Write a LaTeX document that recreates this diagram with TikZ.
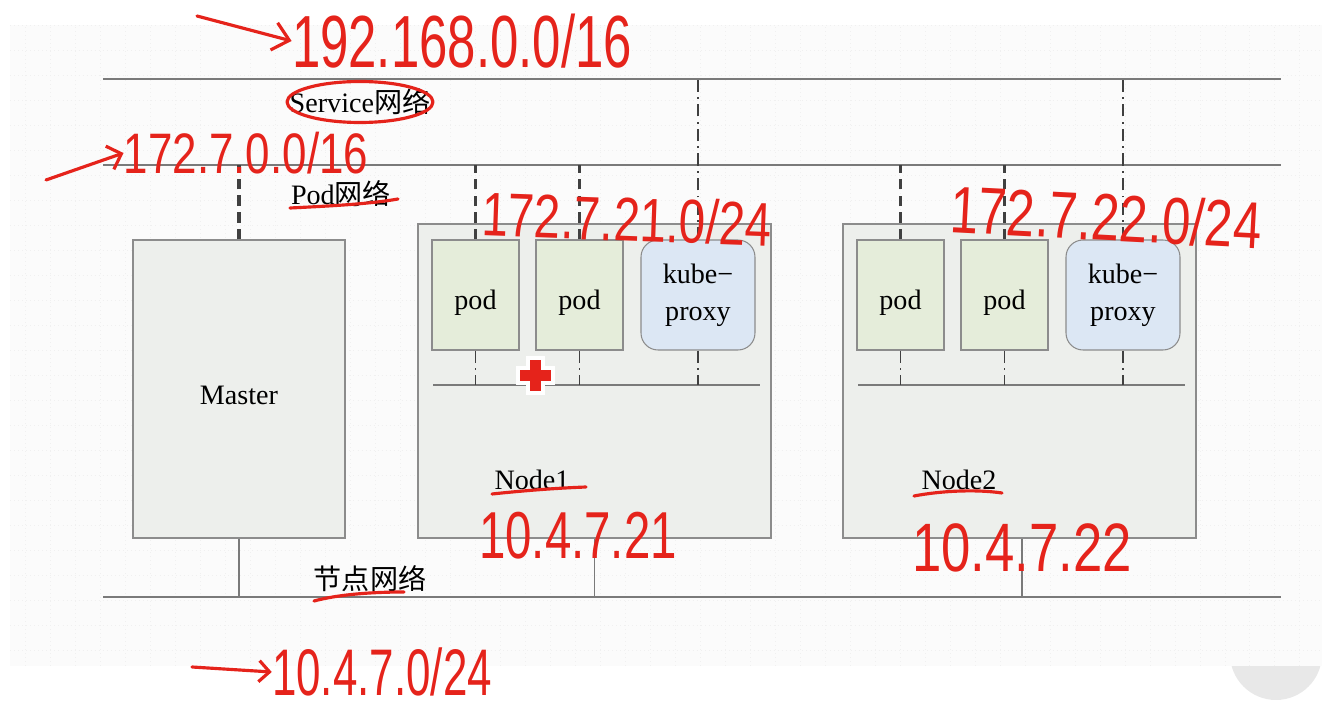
\documentclass[tikz,border=0pt]{standalone}
\usepackage{fontspec}
\setmainfont{Liberation Serif}
\newfontfamily\cjkfont{Noto Sans CJK SC}
\newfontfamily\handfont{Liberation Sans}
\usetikzlibrary{arrows.meta}
\tikzset {>=Stealth}
\definecolor{boxgrey}{HTML}{EDEFEC}
\definecolor{podgreen}{HTML}{E5EDDA}
\definecolor{proxyblue}{HTML}{DCE7F4}
\definecolor{linegrey}{HTML}{8C8C8C}
\definecolor{netgrey}{HTML}{7A7A7A}
\definecolor{inkred}{HTML}{E5231B}
\newcommand*{\hand}[3]{\fontsize{#1}{#1}\handfont\scalebox{1}[#2]{#3}}

\begin{document}
\begin{tikzpicture}[x=0.02cm,y=-0.02cm,
  font=\fontsize{16}{21}\selectfont,
  hostbox/.style={draw=linegrey,fill=boxgrey,line width=0.7pt},
  podbox/.style={draw=linegrey,fill=podgreen,line width=0.6pt,text height=20pt,
    minimum width=1.74cm,minimum height=2.2cm},
  proxybox/.style={draw=linegrey,fill=proxyblue,line width=0.6pt,rounded corners=0.34cm,
    minimum width=2.28cm,minimum height=2.2cm,align=center,
    execute at begin node=\rule{0pt}{22pt}},
  netlabel/.style={inner sep=0pt},
  net/.style={netgrey,line width=1.1pt},
  wire/.style={netgrey,line width=0.7pt},
  poddash/.style={black!75,line width=1.8pt,dash pattern=on 6pt off 3.5pt},
  svcdash/.style={black!75,line width=0.9pt,dash pattern=on 7pt off 3pt on 1pt off 3pt},
  ink/.style={inkred,line width=1.8pt,line cap=round,line join=round},
  inktext/.style={inkred,inner sep=0pt}]
\useasboundingbox (0,0) rectangle (1340,726);

% Screen background and grid
\fill[black!9] (1276,654) circle (46);
\fill[white!98.6!black] (10,25) rectangle (1322,666);
\draw[black!6,line width=0.3pt,dotted,step=0.5cm] (10,25) grid (1322,666);

% Network lines
\coordinate (svcL) at (103,79);
\coordinate (svcR) at (1281,79);
\coordinate (podL) at (103,165);
\coordinate (podR) at (1281,165);
\coordinate (hostL) at (103,597);
\coordinate (hostR) at (1281,597);
\draw[net] (svcL) -- (svcR);
\draw[net] (podL) -- (podR);
\draw[net] (hostL) -- (hostR);
\node[netlabel] (svcnet) at (360,102) {Service{\cjkfont 网络}};
\node[netlabel] (podnet) at (341,194) {Pod{\cjkfont 网络}};
\node[netlabel] (hostnet) at (370,579) {\cjkfont 节点网络};

% Master
\node[hostbox,text height=18pt,minimum width=4.24cm,minimum height=5.96cm] (master) at (239,389) {Master};

% Node1 and Node2
\node[hostbox,minimum width=7.06cm,minimum height=6.28cm] (node1) at (594.5,381) {};
\node[hostbox,minimum width=7.06cm,minimum height=6.28cm] (node2) at (1019.5,381) {};
\node (node1lbl) at (532,480) {Node1};
\node (node2lbl) at (959,480) {Node2};

\node[podbox] (pod1) at (475.5,295) {pod};
\node[podbox] (pod2) at (579.5,295) {pod};
\node[proxybox] (kp1) at (698,295) {kube−\\proxy};
\node[podbox] (pod3) at (900.5,295) {pod};
\node[podbox] (pod4) at (1004.5,295) {pod};
\node[proxybox] (kp2) at (1123,295) {kube−\\proxy};

\coordinate (busA) at (433,385);
\coordinate (busB) at (760,385);
\coordinate (busC) at (858,385);
\coordinate (busD) at (1185,385);
\draw[wire] (busA) -- (busB);
\draw[wire] (busC) -- (busD);

% Links to the networks
\draw[poddash] (master.north) -- (master.north |- podL);
\draw[wire] (master.south) -- (master.south |- hostL);
\draw[wire] (node1.south) -- (node1.south |- hostL);
\draw[wire] ([xshift=0.05cm]node2.south) -- ([xshift=0.05cm]node2.south |- hostL);
\foreach \p in {pod1,pod2,pod3,pod4}
  \draw[poddash] (\p.north) -- (\p.north |- podL);
\foreach \k in {kp1,kp2}
  \draw[svcdash] (\k.north) -- (\k.north |- svcL);
\foreach \p in {pod1,pod2,kp1}
  \draw[svcdash] (\p.south) -- (\p.south |- busA);
\foreach \p in {pod3,pod4,kp2}
  \draw[svcdash] (\p.south) -- (\p.south |- busC);

% Red handwritten notes
\node[inktext] (svcip) at (462,41) {\hand{29}{1.45}{192.168.0.0/16}};
\coordinate (svctail) at (197,16);
\draw[ink,-{Straight Barb[length=9pt,width=16pt]}] (svctail) -- (svcip.west);
\draw[ink] (svcnet.center) ellipse [x radius=1.46cm,y radius=0.41cm];

\node[inktext] (podip) at (246,153) {\hand{25}{1.3}{172.7.0.0/16}};
\coordinate (podtail) at (46,180);
\draw[ink,-{Straight Barb[length=7pt,width=14pt]}] (podtail) -- (podip.west);
\draw[ink] (290,208) .. controls (330,206) and (370,204) .. (398,199);

\node[inktext,rotate=-2] (node1ip) at (627,219) {\hand{27}{1.3}{172.7.21.0/24}};
\node[inktext,rotate=-3] (node2ip) at (1106,217) {\hand{29}{1.3}{172.7.22.0/24}};

\draw[ink] (492,494) .. controls (530,490) and (560,488) .. (586,487);
\draw[ink] (914,496) .. controls (940,491) and (975,489) .. (1002,493);
\node[inktext] (host1ip) at (578,536) {\hand{27}{1.4}{10.4.7.21}};
\node[inktext] (host2ip) at (1022,548) {\hand{30}{1.3}{10.4.7.22}};

\draw[ink] (314,601) .. controls (340,594) and (375,592) .. (404,592);
\node[inktext] (hostip) at (382,672) {\hand{25}{1.5}{10.4.7.0/24}};
\coordinate (hosttail) at (192,667);
\draw[ink,-{Straight Barb[length=6pt,width=12pt]}] (hosttail) -- (hostip.west);

% Red cross marker
\fill[white] (516,366) rectangle (555,385);
\fill[white] (526,356) rectangle (545,395);
\fill[inkred] (520,370) rectangle (551,381);
\fill[inkred] (530,360) rectangle (541,391);
\end{tikzpicture}
\end{document}
